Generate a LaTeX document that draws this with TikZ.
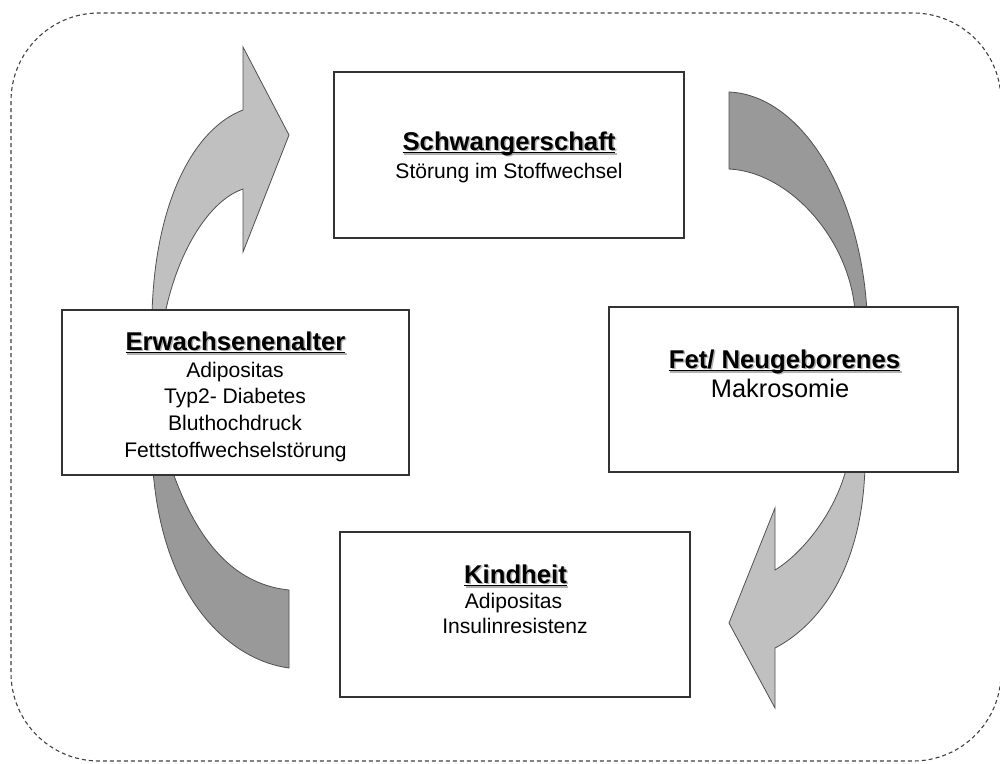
\documentclass[tikz,border=0pt]{standalone}
\usepackage{fontspec}
\setmainfont{Liberation Sans}
\definecolor{lightarrow}{HTML}{C0C0C0}
\definecolor{darkarrow}{HTML}{999999}
\definecolor{edgegray}{HTML}{505050}
\newsavebox{\ulbox}
\newcommand{\ultext}[1]{\sbox{\ulbox}{#1}\rlap{\rule[-3.4pt]{\wd\ulbox}{1.7pt}}\usebox{\ulbox}}
\tikzset{
  stagebox/.style={draw=black!80, line width=1.1pt, fill=white, inner sep=0pt, minimum height=165pt},
  ttl/.style={anchor=base, inner sep=0pt, font=\fontsize{25.7}{30}\selectfont\bfseries},
  ttlshadow/.style={ttl, text=black!30},
  bodytxt/.style={anchor=base, inner sep=0pt, font=\fontsize{21.1}{25}\selectfont},
  bigbody/.style={anchor=base, inner sep=0pt, font=\fontsize{25.4}{30}\selectfont},
  lightarr/.style={fill=lightarrow, draw=edgegray, line width=0.8pt, line join=miter},
  darkarr/.style={fill=darkarrow, draw=edgegray, line width=0.8pt},
  frame/.style={draw=black!75, line width=1.1pt, dash pattern=on 4pt off 3pt, rounded corners=88pt}
}
\begin{document}
\begin{tikzpicture}[x=1pt,y=-1pt]
\useasboundingbox (0,0) rectangle (1000,763);
\draw[frame] (11,13) rectangle (1001,761);

% curved arrows (drawn behind the boxes)
\draw[lightarr] (152,314) .. controls (155,200) and (195,128) .. (243,110)
  -- (243,47) -- (289,135) -- (243,252) -- (243,189)
  .. controls (210,200) and (178,250) .. (165,314) -- cycle;
\draw[darkarr] (729,92) .. controls (800,95) and (860,190) .. (867,312)
  -- (855,312) .. controls (850,240) and (790,172) .. (729,169) -- cycle;
\draw[lightarr] (865,466) .. controls (862,580) and (810,630) .. (775,648)
  -- (775,708) -- (729,623) -- (775,508) -- (775,570)
  .. controls (800,555) and (835,515) .. (847,466) -- cycle;
\draw[darkarr] (153,470) .. controls (163,600) and (230,660) .. (289,668)
  -- (289,590) .. controls (240,585) and (200,550) .. (172,470) -- cycle;

% boxes
\node[stagebox, minimum width=350pt, minimum height=166pt] (schw) at (509,155) {};
\node[stagebox, minimum width=349pt] (fet) at (783.5,389.5) {};
\node[stagebox, minimum width=350pt] (kind) at (515,614.5) {};
\node[stagebox, minimum width=347pt] (erw) at (235.5,392.5) {};

% Schwangerschaft
\node[ttlshadow] (schwS) at (510.5,151.5) {\ultext{Schwangerschaft}};
\node[ttl] (schwT) at (509,150) {\ultext{Schwangerschaft}};
\node[bodytxt] (schw1) at (509,178) {Störung im Stoffwechsel};

% Fet / Neugeborenes
\node[ttlshadow] (fetS) at (786,369.5) {\ultext{Fet/ Neugeborenes}};
\node[ttl] (fetT) at (784.5,368) {\ultext{Fet/ Neugeborenes}};
\node[bigbody] (fet1) at (780,397) {Makrosomie};

% Kindheit
\node[ttlshadow] (kindS) at (517,584.5) {\ultext{Kindheit}};
\node[ttl] (kindT) at (515.5,583) {\ultext{Kindheit}};
\node[bodytxt] (kind1) at (513.5,608) {Adipositas};
\node[bodytxt] (kind2) at (515,633) {Insulinresistenz};

% Erwachsenenalter
\node[ttlshadow] (erwS) at (237,351.5) {\ultext{Erwachsenenalter}};
\node[ttl] (erwT) at (235.5,350) {\ultext{Erwachsenenalter}};
\node[bodytxt] (erw1) at (235,377) {Adipositas};
\node[bodytxt] (erw2) at (235,403) {Typ2- Diabetes};
\node[bodytxt] (erw3) at (235,430) {Bluthochdruck};
\node[bodytxt] (erw4) at (235.5,457) {Fettstoffwechselstörung};
\end{tikzpicture}
\end{document}
